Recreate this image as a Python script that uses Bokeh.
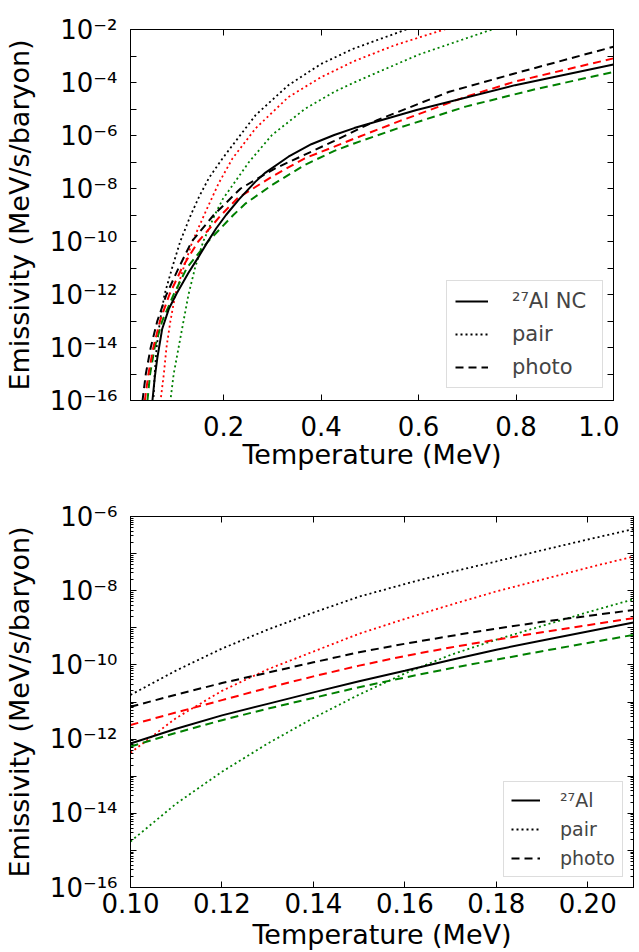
import numpy as np
from bokeh.plotting import figure
from bokeh.layouts import column
from bokeh.models import (FixedTicker, LogAxis, LinearAxis, Legend, LegendItem,
                          CustomJSTickFormatter, Range1d)
from bokeh.embed import file_html
from bokeh.resources import INLINE

FONT = "DejaVu Sans"
BLACK, RED, GREEN = "#000000", "#ff0000", "#008000"

# ---------------- top panel: T (MeV) and log10 emissivity (MeV/s/baryon) ----------------
top_T_al_black = [0.050, 0.054, 0.059, 0.064, 0.074, 0.0875, 0.104, 0.128, 0.148, 0.165, 0.185, 0.205,
                  0.232, 0.265, 0.286, 0.333, 0.380, 0.427, 0.468, 0.596, 0.798, 1.0]
top_lg_al_black = [-17.0, -16.0, -15.1, -14.4, -13.3, -12.55, -11.95, -11.18, -10.6, -10.08, -9.5, -9.0,
                   -8.4, -7.75, -7.40, -6.80, -6.33, -5.98, -5.72, -5.04, -4.10, -3.32]

top_T_photo_black = [0.029, 0.0337, 0.0404, 0.0505, 0.064, 0.0828, 0.1077, 0.1347, 0.1798, 0.235, 0.306,
                     0.387, 0.4273, 0.515, 0.663, 0.797, 1.0]
top_lg_photo_black = [-17.0, -16.0, -15.0, -14.0, -13.0, -12.0, -11.0, -10.0, -9.0, -8.0, -7.24,
                      -6.55, -6.2, -5.42, -4.35, -3.66, -2.65]

top_T_photo_red = [0.033, 0.0384, 0.0458, 0.0559, 0.0694, 0.0889, 0.1145, 0.148, 0.195, 0.2286, 0.2993,
                   0.3667, 0.4273, 0.4677, 0.562, 0.6966, 0.797, 1.0]
top_lg_photo_red = [-17.0, -16.0, -15.0, -14.0, -13.0, -12.0, -11.0, -10.0, -9.0, -8.37, -7.55,
                    -6.86, -6.42, -6.12, -5.45, -4.54, -3.97, -3.09]

top_T_photo_green = [0.0395, 0.0438, 0.0492, 0.0586, 0.0741, 0.0976, 0.1246, 0.168, 0.220, 0.2455, 0.2993,
                     0.3667, 0.4273, 0.4677, 0.562, 0.6966, 0.8313, 1.0]
top_lg_photo_green = [-17.0, -16.0, -15.0, -14.0, -13.0, -12.0, -11.0, -10.0, -9.0, -8.56, -7.87,
                      -7.11, -6.58, -6.30, -5.70, -4.91, -4.29, -3.60]

top_T_pair_black = [0.0535, 0.056, 0.0586, 0.0626, 0.0694, 0.0788, 0.0943, 0.111, 0.1327, 0.150, 0.170,
                    0.198, 0.2657, 0.333, 0.400, 0.467, 0.575, 0.620]
top_lg_pair_black = [-17.0, -16.0, -15.0, -14.0, -13.0, -12.0, -11.0, -10.0, -9.0, -8.3, -7.6,
                     -6.86, -5.23, -4.1, -3.3, -2.72, -2.0, -1.7]

top_T_pair_red = [0.066, 0.0707, 0.0774, 0.0828, 0.0909, 0.101, 0.1178, 0.136, 0.165, 0.190, 0.2185,
                  0.2657, 0.333, 0.400, 0.467, 0.550, 0.653, 0.700]
top_lg_pair_red = [-17.0, -16.0, -15.0, -14.0, -13.0, -12.0, -11.0, -10.0, -8.8, -7.8, -6.86,
                   -5.73, -4.55, -3.8, -3.2, -2.6, -2.0, -1.75]

top_T_pair_green = [0.087, 0.0909, 0.0976, 0.1077, 0.1178, 0.128, 0.1414, 0.1582, 0.1818, 0.1983, 0.2522,
                    0.2993, 0.3667, 0.4273, 0.4677, 0.600, 0.7505, 0.800]
top_lg_pair_green = [-17.0, -16.0, -15.0, -14.0, -13.0, -12.0, -11.0, -10.0, -9.0, -8.4, -7.0,
                     -5.98, -5.0, -4.35, -4.0, -2.95, -2.0, -1.75]

# ---------------- bottom panel ----------------
bot_T = [0.10, 0.11, 0.12, 0.13, 0.14, 0.15, 0.16, 0.17, 0.18, 0.19, 0.20, 0.21]
bot_lg_pair_black = [-10.81, -10.15, -9.56, -9.05, -8.59, -8.16, -7.82, -7.50, -7.21, -6.91, -6.62, -6.34]
bot_lg_pair_red = [-12.37, -11.43, -10.70, -10.12, -9.64, -9.16, -8.76, -8.38, -8.02, -7.70, -7.38, -7.08]
bot_lg_pair_green = [-14.76, -13.74, -12.88, -12.12, -11.43, -10.80, -10.23, -9.73, -9.32, -8.95, -8.58, -8.23]
bot_lg_photo_black = [-11.13, -10.80, -10.49, -10.21, -9.93, -9.66, -9.43, -9.22, -9.02, -8.84, -8.68, -8.52]
bot_lg_photo_red = [-11.62, -11.28, -10.95, -10.62, -10.31, -10.02, -9.76, -9.53, -9.32, -9.12, -8.93, -8.74]
bot_lg_photo_green = [-12.20, -11.83, -11.49, -11.18, -10.89, -10.60, -10.34, -10.09, -9.86, -9.63, -9.41, -9.19]
bot_lg_al_black = [-12.12, -11.72, -11.36, -11.05, -10.74, -10.44, -10.16, -9.87, -9.59, -9.34, -9.10, -8.86]

# ---------------- ticks ----------------
top_x_ticks = [0.2, 0.4, 0.6, 0.8, 1.0]
top_x_labels = ["0.2", "0.4", "0.6", "0.8", "1.0"]
top_y_exps = list(range(-16, -1))
top_y_label_exps = [-16, -14, -12, -10, -8, -6, -4, -2]
top_y_labels = ["10⁻¹⁶", "10⁻¹⁴", "10⁻¹²", "10⁻¹⁰", "10⁻⁸", "10⁻⁶", "10⁻⁴", "10⁻²"]

bot_x_ticks = [0.10, 0.12, 0.14, 0.16, 0.18, 0.20]
bot_x_labels = ["0.10", "0.12", "0.14", "0.16", "0.18", "0.20"]
bot_y_exps = list(range(-16, -5))
bot_y_label_exps = [-16, -14, -12, -10, -8, -6]
bot_y_labels = ["10⁻¹⁶", "10⁻¹⁴", "10⁻¹²", "10⁻¹⁰", "10⁻⁸", "10⁻⁶"]

Y_CODE = """
const e = Math.round(Math.log10(tick));
const i = lab_exps.indexOf(e);
return i >= 0 ? lab_text[i] : "";
"""
X_CODE = """
for (let i = 0; i < tick_vals.length; i++) { if (Math.abs(tick_vals[i] - tick) < 1e-9) return tick_text[i]; }
return "";
"""
BLANK = "return '';"


def dec(e):
    return float("1e%d" % e)


def style_axis(ax, tick_in, minor_in):
    ax.major_tick_in = tick_in
    ax.major_tick_out = 0
    ax.minor_tick_in = minor_in
    ax.minor_tick_out = 0
    ax.axis_line_color = "black"
    ax.major_tick_line_color = "black"
    ax.minor_tick_line_color = "black"
    ax.major_label_text_font = FONT
    ax.major_label_text_font_size = "26px"
    ax.major_label_text_color = "black"
    ax.axis_label_text_font = FONT
    ax.axis_label_text_font_size = "27px"
    ax.axis_label_text_font_style = "normal"
    ax.axis_label_text_color = "black"


def build(xr, yexps, ylabel_exps, ylabels, xticks, xlabels, minor, w, h, mtop, mbottom, mright,
          xl_standoff, xa_standoff):
    p = figure(x_range=Range1d(*xr), y_range=Range1d(dec(yexps[0]), dec(yexps[-1])),
               y_axis_type="log", width=w, height=h,
               min_border_left=123, min_border_right=mright, min_border_top=mtop,
               min_border_bottom=mbottom,
               output_backend="svg", toolbar_location=None,
               background_fill_color="white", border_fill_color="white",
               outline_line_color="black", outline_line_width=1)
    p.xgrid.visible = False
    p.ygrid.visible = False
    yt = FixedTicker(ticks=[dec(e) for e in yexps],
                     minor_ticks=[k * dec(e) for e in yexps[:-1] for k in range(2, 10)] if minor else [])
    xt = FixedTicker(ticks=xticks, minor_ticks=[])
    ya = p.yaxis[0]
    ya.ticker = yt
    ya.formatter = CustomJSTickFormatter(args=dict(lab_exps=ylabel_exps, lab_text=ylabels), code=Y_CODE)
    ya.axis_label = "Emissivity (MeV/s/baryon)"
    style_axis(ya, 6, 3)
    ya.major_label_standoff = 13
    ya.axis_label_standoff = 12
    xa = p.xaxis[0]
    xa.ticker = xt
    xa.formatter = CustomJSTickFormatter(args=dict(tick_vals=xticks, tick_text=xlabels), code=X_CODE)
    xa.axis_label = "Temperature (MeV)"
    style_axis(xa, 6, 3)
    xa.major_label_standoff = xl_standoff
    xa.axis_label_standoff = xa_standoff
    yr = LogAxis(ticker=yt, formatter=CustomJSTickFormatter(code=BLANK))
    style_axis(yr, 6, 3)
    yr.major_label_text_font_size = "1px"
    yr.major_label_standoff = 0
    p.add_layout(yr, "right")
    xtop = LinearAxis(ticker=xt, formatter=CustomJSTickFormatter(code=BLANK))
    style_axis(xtop, 6, 3)
    xtop.major_label_text_font_size = "1px"
    xtop.major_label_standoff = 0
    p.add_layout(xtop, "above")
    return p


def curve(p, T, lg, color, kind):
    y = np.power(10.0, np.asarray(lg, dtype=float))
    if kind == "solid":
        return p.line(T, y, line_color=color, line_width=2)
    if kind == "dashed":
        return p.line(T, y, line_color=color, line_width=2, line_dash="8 5")
    return p.line(T, y, line_color=color, line_width=1.8, line_dash="2 3")


def legend(p, rs, first, loc, size, gw, gh, spacing, padding, standoff, lw):
    lg = Legend(items=[LegendItem(label=first, renderers=[rs[0]]),
                       LegendItem(label="pair", renderers=[rs[1]]),
                       LegendItem(label="photo", renderers=[rs[2]])],
                location=loc, label_text_font=FONT, label_text_font_size=size,
                glyph_width=gw, glyph_height=gh, label_height=gh, label_width=lw,
                spacing=spacing, padding=padding, label_standoff=standoff, margin=0,
                border_line_color="#bbbbbb", border_line_width=1,
                background_fill_color="white", background_fill_alpha=1.0)
    p.add_layout(lg)


# ---------------- top figure ----------------
top = build((0.009, 1.0), top_y_exps, top_y_label_exps, top_y_labels, top_x_ticks, top_x_labels,
            False, 619, 472, 29, 71, 6, 15, 0)
curve(top, top_T_pair_green, top_lg_pair_green, GREEN, "dotted")
curve(top, top_T_pair_red, top_lg_pair_red, RED, "dotted")
t_pair = curve(top, top_T_pair_black, top_lg_pair_black, BLACK, "dotted")
curve(top, top_T_photo_green, top_lg_photo_green, GREEN, "dashed")
curve(top, top_T_photo_red, top_lg_photo_red, RED, "dashed")
t_photo = curve(top, top_T_photo_black, top_lg_photo_black, BLACK, "dashed")
t_al = curve(top, top_T_al_black, top_lg_al_black, BLACK, "solid")
legend(top, [t_al, t_pair, t_photo], "²⁷Al NC", (316, 12), "21px", 33, 24, 9, 8, 24, 82)

# ---------------- bottom figure ----------------
bot = build((0.10, 0.21), bot_y_exps, bot_y_label_exps, bot_y_labels, bot_x_ticks, bot_x_labels,
            True, 639, 480, 44, 64, 6, 5, 3)
curve(bot, bot_T, bot_lg_pair_green, GREEN, "dotted")
curve(bot, bot_T, bot_lg_pair_red, RED, "dotted")
b_pair = curve(bot, bot_T, bot_lg_pair_black, BLACK, "dotted")
curve(bot, bot_T, bot_lg_photo_green, GREEN, "dashed")
curve(bot, bot_T, bot_lg_photo_red, RED, "dashed")
b_photo = curve(bot, bot_T, bot_lg_photo_black, BLACK, "dashed")
b_al = curve(bot, bot_T, bot_lg_al_black, BLACK, "solid")
legend(bot, [b_al, b_pair, b_photo], "²⁷Al", (373, 10), "19px", 29, 22, 7, 7, 20, 55)

layout = column(top, bot, spacing=0)
open("out.html", "w").write(file_html(layout, INLINE))
